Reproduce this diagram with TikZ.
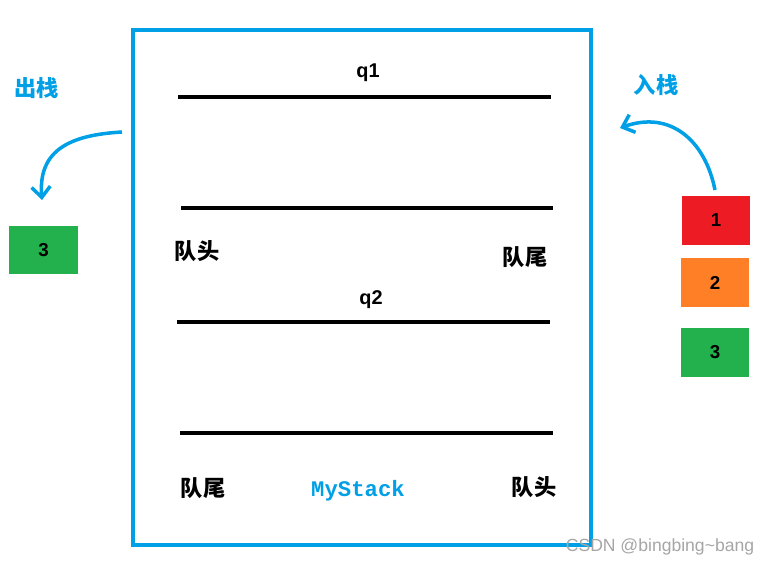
\documentclass[tikz,border=0pt]{standalone}
\usepackage{fontspec}
\usetikzlibrary{arrows.meta}
\setmainfont{Liberation Sans}
\setmonofont{Liberation Mono}
\newfontfamily\cjk{Noto Sans CJK SC}
\definecolor{cy}{RGB}{0,160,230}
\definecolor{rd}{RGB}{237,28,36}
\definecolor{og}{RGB}{255,127,39}
\definecolor{gn}{RGB}{34,177,76}
\begin{document}
\begin{tikzpicture}[x=0.03cm,y=-0.03cm,
 bar/.style={line width=3.4pt},
 lbl/.style={font=\cjk\bfseries\fontsize{19}{21}\selectfont},
 box/.style={draw=none,minimum width=2.04cm,minimum height=1.45cm,font=\bfseries\fontsize{16}{18}\selectfont},
 arr/.style={cy,line width=3pt,-{Straight Barb[length=9pt,width=16pt]}}]
\useasboundingbox (0,0) rectangle (771,566);
\fill[white] (0,0) rectangle (771,566);
\node[draw=cy,line width=3.6pt,minimum width=13.74cm,minimum height=15.45cm,anchor=north west] (frame) at (131,28) {};
\coordinate (a1) at (178,97); \coordinate (b1) at (551,97);
\coordinate (a2) at (181,208); \coordinate (b2) at (553,208);
\coordinate (a3) at (177,322); \coordinate (b3) at (550,322);
\coordinate (a4) at (180,433); \coordinate (b4) at (553,433);
\draw[bar] (a1)--(b1); \draw[bar] (a2)--(b2);
\draw[bar] (a3)--(b3); \draw[bar] (a4)--(b4);
\node[font=\bfseries\fontsize{17}{19}\selectfont] (q1) at (368,73) {q1};
\node[font=\bfseries\fontsize{17}{19}\selectfont] (q2) at (371,300) {q2};
\node[lbl] (h1) at (197,251) {队头};
\node[lbl] (t1) at (525,257) {队尾};
\node[lbl] (t2) at (203,488) {队尾};
\node[lbl] (h2) at (534,487) {队头};
\node[font=\ttfamily\bfseries\fontsize{19}{21}\selectfont,text=cy] (ms) at (358,491) {MyStack};
\node[lbl,text=cy] (out) at (37,88) {出栈};
\node[lbl,text=cy] (in) at (656,85) {入栈};
\node[box,fill=gn] (g1) at (43.5,250) {3};
\node[box,fill=rd] (r) at (716,220.5) {1};
\node[box,fill=og] (o) at (715,282.5) {2};
\node[box,fill=gn] (g2) at (715,352.5) {3};
\coordinate (os) at (122,132); \coordinate (oe) at (42,200);
\coordinate (is) at (715,190); \coordinate (ie) at (620,128);
\draw[arr] (os) .. controls (70,135) and (38,150) .. (oe);
\draw[arr] (is) .. controls (705,140) and (670,110) .. (ie);
\node[text=gray!70,font=\fontsize{15}{17}\selectfont] (wm) at (660,547) {CSDN @bingbing\textasciitilde bang};
\end{tikzpicture}
\end{document}
